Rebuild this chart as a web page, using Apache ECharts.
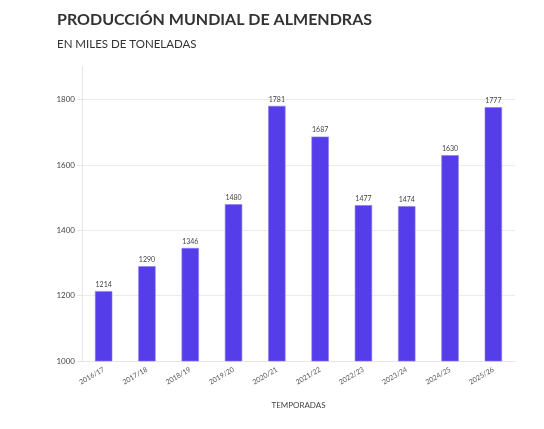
<!DOCTYPE html>
<html><head><meta charset="utf-8">
<script src="https://cdn.jsdelivr.net/npm/echarts@6/dist/echarts.min.js"></script>
<style>html,body{margin:0;padding:0;background:#fff}#c{width:544px;height:429px}</style>
</head><body><div id="c"></div>
<script>
const categories = ['2016/17','2017/18','2018/19','2019/20','2020/21','2021/22','2022/23','2023/24','2024/25','2025/26'];
const production = [1214,1290,1346,1480,1781,1687,1477,1474,1630,1777];
const yTickValues = [1000,1200,1400,1600,1800];
const yRange = {min:1000, max:1900, interval:200};
const chart = echarts.init(document.getElementById('c'));
chart.setOption({
  animation:false,
  title:{text:'PRODUCCIÓN MUNDIAL DE ALMENDRAS', subtext:'EN MILES DE TONELADAS', left:52, top:7,
    textStyle:{fontFamily:'Lato', fontWeight:'bold', fontSize:16, color:'#333'},
    subtextStyle:{fontFamily:'Lato', fontSize:11.5, color:'#333'}, itemGap:10},
  grid:{left:82, right:29, top:67, bottom:68},
  xAxis:{type:'category', data:categories, name:'TEMPORADAS', nameLocation:'middle', nameGap:40,
    nameTextStyle:{fontFamily:'Lato', fontSize:8, color:'#444'},
    axisLine:{lineStyle:{color:'#e6e6e6'}}, axisTick:{show:false},
    axisLabel:{rotate:30, fontSize:7, color:'#555', fontFamily:'Lato', margin:8}},
  yAxis:{type:'value', min:yRange.min, max:yRange.max, interval:yRange.interval,
    axisLine:{show:true, lineStyle:{color:'#e6e6e6'}},
    axisTick:{show:true, length:5, lineStyle:{color:'#e6e6e6'}, customValues:yTickValues},
    splitLine:{lineStyle:{color:'#ebebeb'}},
    axisLabel:{fontSize:8, color:'#444', fontFamily:'Lato', margin:7,
      customValues:yTickValues, formatter:v=>String(v)}},
  series:[{type:'bar', data:production, barWidth:'40%',
    itemStyle:{color:'#553de9', borderColor:'#8a78f0', borderWidth:0.6},
    label:{show:true, position:'top', fontSize:7, color:'#444', fontFamily:'Lato', distance:3}}]
});
</script></body></html>
